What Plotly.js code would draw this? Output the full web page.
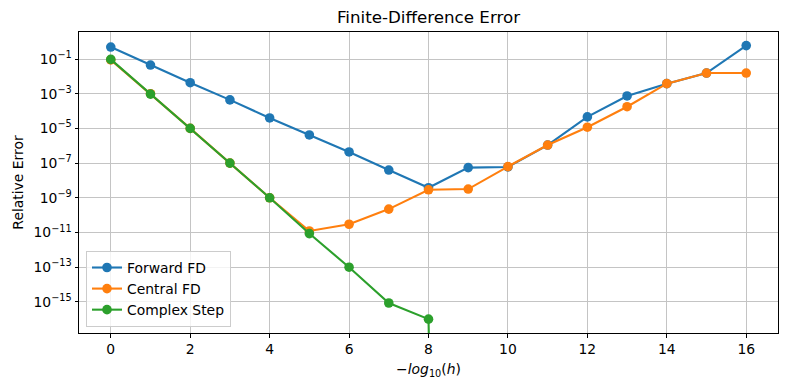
<!DOCTYPE html>
<html>
<head>
<meta charset="utf-8">
<script src="https://cdn.plot.ly/plotly-3.0.1.min.js"></script>
<style>
  html, body { margin: 0; padding: 0; background: #ffffff; }
  #chart { width: 790px; height: 390px; }
</style>
</head>
<body>
<div id="chart"></div>
<script>
// -log10(h)
const steps = [0, 1, 2, 3, 4, 5, 6, 7, 8, 9, 10, 11, 12, 13, 14, 15, 16];
const forwardFD = [0.49, 0.045, 0.0043, 4.4e-4, 4.0e-5, 4.2e-6, 4.4e-7, 4.0e-8, 3.8e-9,
                   5.5e-8, 6.0e-8, 1.1e-6, 4.6e-5, 7.4e-4, 3.8e-3, 1.55e-2, 0.59];
const centralFD = [0.089, 1.0e-3, 1.0e-5, 1.0e-7, 1.0e-9, 1.23e-11, 3.0e-11, 2.24e-10, 2.9e-9,
                   3.2e-9, 6.3e-8, 1.1e-6, 1.17e-5, 1.78e-4, 3.8e-3, 1.55e-2, 1.55e-2];
const complexStep = [0.095, 9.5e-4, 1.0e-5, 1.0e-7, 1.0e-9, 8.7e-12, 1.0e-13, 8.7e-16, 1.02e-16,
                     0, 0, 0, 0, 0, 0, 0, 0];
const seriesNames = ['Forward FD', 'Central FD', 'Complex Step'];
const seriesColors = ['#1f77b4', '#ff7f0e', '#2ca02c'];
const xTicks = [0, 2, 4, 6, 8, 10, 12, 14, 16];
const yTickVals = [1e-1, 1e-3, 1e-5, 1e-7, 1e-9, 1e-11, 1e-13, 1e-15];
const yTickText = ['10<sup>\u22121</sup>', '10<sup>\u22123</sup>', '10<sup>\u22125</sup>', '10<sup>\u22127</sup>',
                   '10<sup>\u22129</sup>', '10<sup>\u221211</sup>', '10<sup>\u221213</sup>', '10<sup>\u221215</sup>'];

// zero errors cannot sit on a log axis: clip them far below the view (like matplotlib's clipping)
const clipZero = v => (v > 0 ? v : 1e-120);

const font = 'DejaVu Sans, sans-serif';
const allSeries = [forwardFD, centralFD, complexStep];
const traces = allSeries.map((ys, i) => ({
  x: steps,
  y: ys.map(clipZero),
  type: 'scatter',
  mode: 'lines+markers',
  name: seriesNames[i],
  line: { color: seriesColors[i], width: 2.1 },
  marker: { color: seriesColors[i], size: 9.6 },
  cliponaxis: true
}));

const layout = {
  width: 790, height: 390,
  margin: { l: 79, r: 12, t: 32, b: 57 },
  paper_bgcolor: '#ffffff', plot_bgcolor: '#ffffff',
  font: { family: font, size: 13.9, color: '#000000' },
  title: {
    text: 'Finite-Difference Error',
    font: { family: font, size: 16.7, color: '#000000' },
    x: 0.5, xanchor: 'center', xref: 'paper',
    y: 0.955, yanchor: 'middle', yref: 'container'
  },
  showlegend: true,
  legend: {
    x: 0.01, y: 0.02, xanchor: 'left', yanchor: 'bottom',
    bgcolor: 'rgba(255,255,255,0.8)', bordercolor: '#cccccc', borderwidth: 1,
    font: { family: font, size: 13.9, color: '#000000' },
    tracegroupgap: 0, itemwidth: 30
  },
  xaxis: {
    range: [-0.8, 16.8],
    tickvals: xTicks,
    ticks: 'outside', ticklen: 3.5, tickwidth: 1, tickcolor: '#000000',
    showline: true, mirror: true, linecolor: '#000000', linewidth: 1,
    showgrid: true, gridcolor: '#c4c4c4', gridwidth: 1,
    zeroline: false,
    tickfont: { family: font, size: 13.9, color: '#000000' },
    title: {
      text: '\u2212<i>log</i><sub>10</sub>(<i>h</i>)',
      font: { family: font, size: 13.9, color: '#000000' },
      standoff: 8
    },
    automargin: false
  },
  yaxis: {
    type: 'log',
    range: [-16.79, 0.556],
    tickvals: yTickVals,
    ticktext: yTickText,
    ticks: 'outside', ticklen: 3.5, tickwidth: 1, tickcolor: '#000000',
    showline: true, mirror: true, linecolor: '#000000', linewidth: 1,
    showgrid: true, gridcolor: '#c4c4c4', gridwidth: 1,
    zeroline: false,
    tickfont: { family: font, size: 13.9, color: '#000000' },
    title: {
      text: 'Relative Error',
      font: { family: font, size: 13.9, color: '#000000' },
      standoff: 6
    },
    automargin: false
  }
};

Plotly.newPlot('chart', traces, layout, { displayModeBar: false, staticPlot: true });
</script>
</body>
</html>
